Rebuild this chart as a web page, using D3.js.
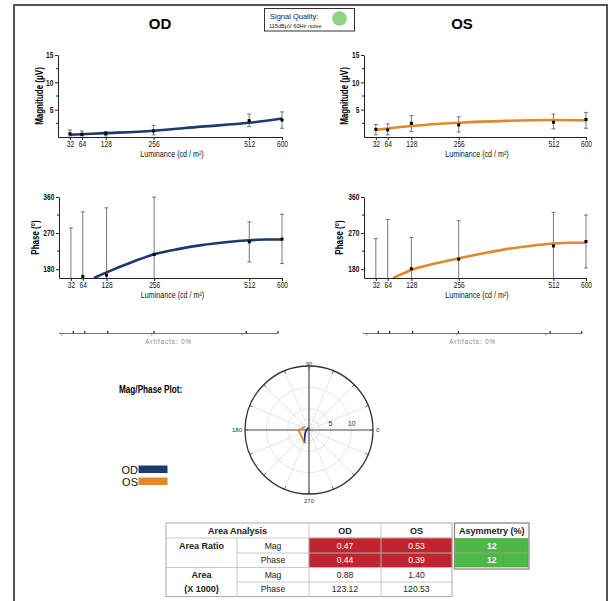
<!DOCTYPE html>
<meta charset="utf-8">
<html>
<style>
	body { margin: 0; background: #fff; }
	svg text { font-family: "Liberation Sans", Arial, sans-serif; }
	.axis path, .axis line { stroke: #222; }
	.axis text { font-size: 8.5px; fill: #111; font-family: "Liberation Sans", Arial, sans-serif; }
</style>
<body>
<script src="https://d3js.org/d3.v7.min.js"></script>
<script type="text/javascript">
	// luminance steps (cd/m2)
	var lum = [32, 64, 128, 256, 512, 600];

	// magnitude (uV) with error bar ends
	var odMag = [0.6, 0.5, 0.6, 1.1, 3.0, 3.1];
	var odMagLo = [0.2, 0.2, 0.2, 0.4, 1.9, 1.6];
	var odMagHi = [1.3, 1.1, 1.0, 2.1, 4.2, 4.6];
	var osMag = [1.4, 1.3, 2.5, 2.2, 2.7, 3.2];
	var osMagLo = [0.4, 0.4, 1.0, 0.9, 1.5, 1.6];
	var osMagHi = [2.3, 2.4, 3.9, 3.7, 4.2, 4.5];

	// phase (deg) with error bar ends
	var odPhase = [100, 162, 165, 217, 248, 255];
	var odPhaseLo = [-83, 1, -3, 74, 198, 194];
	var odPhaseHi = [283, 323, 333, 360, 298, 317];
	var osPhase = [140, 150, 181, 205, 238, 249];
	var osPhaseLo = [24, -4, 103, 109, 154, 183];
	var osPhaseHi = [256, 304, 259, 301, 322, 315];

	// fitted curves
	var magFitLum = [32, 64, 128, 256, 384, 512, 600];
	var odMagFit = [0.4, 0.5, 0.7, 1.15, 1.9, 2.6, 3.4];
	var osMagFit = [1.3, 1.55, 2.0, 2.6, 2.95, 3.1, 3.05];
	var odPhFitLum = [94, 128, 192, 256, 320, 384, 448, 512, 556, 600];
	var odPhaseFit = [158, 172, 196, 217, 230, 240, 247, 252, 254, 254];
	var osPhFitLum = [79, 128, 192, 256, 320, 384, 448, 512, 556, 600];
	var osPhaseFit = [158, 178, 194, 207, 219, 230, 238, 244, 246, 246];

	// axis ticks
	var magTicks = [5, 10, 15];
	var magMinor = [2.5, 7.5, 12.5];
	var phaseTicks = [180, 270, 360];
	var phaseMinor = [225, 315];
	var artifactTicks = [0, 250, 500];
	var polarRings = [2.5, 5, 10];
	var polarRingLabels = [5, 10];
	var polarAngleLabels = [0, 90, 180, 270];

	// area table
	var tableRows = ["Mag", "Phase", "Mag", "Phase"];
	var areaRatioOD = ["0.47", "0.44"];
	var areaRatioOS = ["0.53", "0.39"];
	var areaOD = ["0.88", "123.12"];
	var areaOS = ["1.40", "120.53"];
	var asymmetry = ["12", "12"];

	var navy = "#1d3a70", orange = "#e0882c";
	var width = 613, height = 601;
	var narrow = "scale(0.8,1)";

	var svg = d3.select("body").append("svg")
		.attr("width", width)
		.attr("height", height);

	svg.append("rect").attr("width", width).attr("height", height).attr("fill", "#fff");
	var defs = svg.append("defs");

	// page frame
	svg.append("rect")
		.attr("x", 14).attr("y", 5)
		.attr("width", 593).attr("height", 620)
		.attr("fill", "none").attr("stroke", "#555").attr("stroke-width", 2);

	// signal quality box
	svg.append("rect").attr("x", 264.5).attr("y", 8.5).attr("width", 90).attr("height", 22.5)
		.attr("fill", "#fff").attr("stroke", "#333").attr("stroke-width", 1);
	svg.append("text").attr("x", 270).attr("y", 18.5)
		.attr("font-size", 7.5).attr("fill", "#222").text("Signal Quality:");
	svg.append("text").attr("x", 269).attr("y", 28)
		.attr("font-size", 5.6).attr("fill", "#222").text("115dBμV 60Hz noise");
	svg.append("circle").attr("cx", 339.5).attr("cy", 18.5).attr("r", 7.3).attr("fill", "#92d286");

	// titles
	svg.append("text").attr("x", 160).attr("y", 29).attr("text-anchor", "middle")
		.attr("font-size", 15).attr("font-weight", "bold").text("OD");
	svg.append("text").attr("x", 462).attr("y", 29).attr("text-anchor", "middle")
		.attr("font-size", 15).attr("font-weight", "bold").text("OS");

	function drawPanel(p) {
		var x = d3.scaleLinear().domain([0, 600]).range([p.left, p.right]);
		var y = d3.scaleLinear().domain(p.yDomain).range([p.bottom, p.top]);
		var g = svg.append("g");

		defs.append("clipPath").attr("id", p.id)
			.append("rect").attr("x", p.left).attr("y", p.top - 1)
			.attr("width", p.right - p.left + 6).attr("height", p.bottom - p.top + 1);

		g.append("g").attr("class", "axis")
			.attr("transform", "translate(0," + p.bottom + ")")
			.call(d3.axisBottom(x).tickValues(lum).tickSize(3).tickSizeOuter(0).tickPadding(1).tickFormat(d3.format("d")))
			.selectAll("text").attr("transform", "scale(0.78,1)");

		g.append("g").attr("class", "axis")
			.attr("transform", "translate(" + p.left + ",0)")
			.call(d3.axisLeft(y).tickValues(p.yTicks).tickSize(3).tickSizeOuter(0).tickPadding(3))
			.selectAll("text").attr("font-weight", "bold").attr("font-size", 8).attr("transform", "scale(0.78,1)");

		g.append("g").selectAll("line").data(p.yMinor).join("line")
			.attr("x1", p.left - 2).attr("x2", p.left)
			.attr("y1", function (d) { return y(d); }).attr("y2", function (d) { return y(d); })
			.attr("stroke", "#222");

		g.append("g").attr("transform", "translate(" + ((p.left + p.right) / 2 + 2) + "," + (p.bottom + 20) + ")")
			.append("text").attr("transform", "scale(0.84,1)")
			.attr("text-anchor", "middle").attr("font-size", 8.5).attr("fill", "#111")
			.text("Luminance (cd / m²)");

		g.append("text")
			.attr("transform", "translate(" + p.labelX + "," + (p.top + p.bottom) / 2 + ") rotate(-90) " + narrow)
			.attr("text-anchor", "middle").attr("font-size", 10).attr("font-weight", "bold")
			.text(p.yLabel);

		var plot = g.append("g").attr("clip-path", "url(#" + p.id + ")");

		// error bars
		var bars = plot.selectAll(".err").data(lum).join("g").attr("class", "err");
		bars.append("line")
			.attr("x1", function (d) { return x(d); }).attr("x2", function (d) { return x(d); })
			.attr("y1", function (d, i) { return y(p.lo[i]); }).attr("y2", function (d, i) { return y(p.hi[i]); })
			.attr("stroke", "#555").attr("stroke-width", 0.8);
		[p.lo, p.hi].forEach(function (arr) {
			bars.append("line")
				.attr("x1", function (d) { return x(d) - 2; }).attr("x2", function (d) { return x(d) + 2; })
				.attr("y1", function (d, i) { return y(arr[i]); }).attr("y2", function (d, i) { return y(arr[i]); })
				.attr("stroke", "#555").attr("stroke-width", 0.8);
		});

		// fitted curve
		var line = d3.line()
			.x(function (d) { return x(d[0]); })
			.y(function (d) { return y(d[1]); })
			.curve(d3.curveMonotoneX);
		plot.append("path")
			.datum(d3.zip(p.fitX, p.fitY))
			.attr("d", line)
			.attr("fill", "none").attr("stroke", p.color).attr("stroke-width", 2.6);

		// data points
		plot.selectAll(".pt").data(lum).join("rect").attr("class", "pt")
			.attr("x", function (d) { return x(d) - 1.5; })
			.attr("y", function (d, i) { return y(p.vals[i]) - 1.5; })
			.attr("width", 3).attr("height", 3).attr("fill", "#000");
	}

	drawPanel({ id: "odMag", left: 58, right: 282, top: 55, bottom: 137, yDomain: [0, 15], yTicks: magTicks, yMinor: magMinor,
		yLabel: "Magnitude (μV)", labelX: 43, vals: odMag, lo: odMagLo, hi: odMagHi, fitX: magFitLum, fitY: odMagFit, color: navy });
	drawPanel({ id: "osMag", left: 364, right: 586, top: 55, bottom: 137, yDomain: [0, 15], yTicks: magTicks, yMinor: magMinor,
		yLabel: "Magnitude (μV)", labelX: 348, vals: osMag, lo: osMagLo, hi: osMagHi, fitX: magFitLum, fitY: osMagFit, color: orange });
	drawPanel({ id: "odPh", left: 59, right: 282, top: 197, bottom: 278, yDomain: [158, 360], yTicks: phaseTicks, yMinor: phaseMinor,
		yLabel: "Phase (°)", labelX: 39, vals: odPhase, lo: odPhaseLo, hi: odPhaseHi, fitX: odPhFitLum, fitY: odPhaseFit, color: navy });
	drawPanel({ id: "osPh", left: 364, right: 586, top: 197, bottom: 278, yDomain: [158, 360], yTicks: phaseTicks, yMinor: phaseMinor,
		yLabel: "Phase (°)", labelX: 343, vals: osPhase, lo: osPhaseLo, hi: osPhaseHi, fitX: osPhFitLum, fitY: osPhaseFit, color: orange });

	// artifact strips
	function drawArtifacts(a0, a1, lineL, lineR, cy) {
		var x = d3.scaleLinear().domain([0, 600]).range([a0, a1]);
		var g = svg.append("g");
		g.append("line").attr("x1", lineL).attr("x2", lineR).attr("y1", cy).attr("y2", cy)
			.attr("stroke", "#666").attr("stroke-width", 0.9);
		g.selectAll(".dn").data(artifactTicks).join("line")
			.attr("x1", function (d) { return x(d); }).attr("x2", function (d) { return x(d); })
			.attr("y1", cy).attr("y2", cy + 2).attr("stroke", "#666").attr("stroke-width", 0.8);
		g.selectAll(".up").data(lum).join("line")
			.attr("x1", function (d) { return x(d); }).attr("x2", function (d) { return x(d); })
			.attr("y1", cy - 2.5).attr("y2", cy).attr("stroke", "#222").attr("stroke-width", 1.2);
		g.append("text").attr("x", (lineL + lineR) / 2).attr("y", cy + 10.5)
			.attr("text-anchor", "middle").attr("font-size", 6.5).attr("letter-spacing", 0.8)
			.attr("fill", "#888").text("Artifacts: 0%");
	}
	drawArtifacts(61.7, 278, 59, 278, 333.5);
	drawArtifacts(366.7, 581.7, 363, 582, 333.5);

	// Mag/Phase polar plot
	svg.append("text").attr("transform", "translate(119,393) scale(0.78,1)")
		.attr("font-size", 10.5).attr("font-weight", "bold").text("Mag/Phase Plot:");

	var R = 64;
	var rS = d3.scaleLinear().domain([0, 15]).range([0, R]);
	var pg = svg.append("g").attr("transform", "translate(309,430)");
	var rad = function (deg) { return deg * Math.PI / 180; };

	pg.selectAll(".spoke").data(d3.range(0, 360, 22.5)).join("line")
		.attr("x1", 0).attr("y1", 0)
		.attr("x2", function (d) { return R * Math.cos(rad(d)); })
		.attr("y2", function (d) { return -R * Math.sin(rad(d)); })
		.attr("stroke", "#ddd").attr("stroke-width", 0.8);
	pg.selectAll(".ring").data(polarRings).join("circle")
		.attr("r", function (d) { return rS(d); })
		.attr("fill", "none").attr("stroke", "#ddd").attr("stroke-width", 0.8);
	pg.selectAll(".otick").data(d3.range(0, 360, 22.5)).join("line")
		.attr("x1", function (d) { return (R - 3) * Math.cos(rad(d)); })
		.attr("y1", function (d) { return -(R - 3) * Math.sin(rad(d)); })
		.attr("x2", function (d) { return R * Math.cos(rad(d)); })
		.attr("y2", function (d) { return -R * Math.sin(rad(d)); })
		.attr("stroke", "#444").attr("stroke-width", 0.8);
	pg.append("line").attr("x1", -R).attr("x2", R).attr("y1", 0).attr("y2", 0).attr("stroke", "#555").attr("stroke-width", 1.2);
	pg.append("line").attr("y1", -R).attr("y2", R).attr("x1", 0).attr("x2", 0).attr("stroke", "#555").attr("stroke-width", 1.2);
	pg.append("circle").attr("r", R).attr("fill", "none").attr("stroke", "#333").attr("stroke-width", 1.3);

	pg.selectAll(".rl").data(polarRingLabels).join("text")
		.attr("x", function (d) { return rS(d); }).attr("y", -4)
		.attr("text-anchor", "middle").attr("font-size", 7).attr("fill", "#333")
		.text(function (d) { return d; });
	pg.selectAll(".al").data(polarAngleLabels).join("text")
		.attr("font-size", 6).attr("fill", "#333")
		.attr("x", function (d) { return (R + (d % 180 === 0 ? 3 : 0)) * Math.cos(rad(d)); })
		.attr("y", function (d) { return -(R + (d % 180 === 0 ? 0 : 2.5)) * Math.sin(rad(d)) + (d === 270 ? 6 : 2); })
		.attr("text-anchor", function (d) { return d === 0 ? "start" : d === 180 ? "end" : "middle"; })
		.text(function (d) { return d; });

	var radial = d3.lineRadial()
		.angle(function (d) { return rad(90 - d[1]); })
		.radius(function (d) { return rS(d[0]); });
	[[odMag, odPhase, navy], [osMag, osPhase, orange]].forEach(function (s) {
		pg.append("path").datum(d3.zip(s[0], s[1]))
			.attr("d", radial)
			.attr("fill", "none").attr("stroke", s[2]).attr("stroke-width", 1.8)
			.attr("stroke-linejoin", "round");
	});

	// legend
	[["OD", navy], ["OS", orange]].forEach(function (l, i) {
		svg.append("text").attr("x", 138).attr("y", 474 + i * 12)
			.attr("text-anchor", "end").attr("font-size", 11).attr("fill", "#111").text(l[0]);
		svg.append("rect").attr("x", 138.5).attr("y", 465.5 + i * 12).attr("width", 29).attr("height", 7.5).attr("fill", l[1]);
	});

	// area analysis table
	var cols = [166, 237, 309, 381, 452];
	var rows = [523, 538, 553, 567.5, 582, 596.5];
	var tg = svg.append("g");
	function cellText(txt, cx, cy, opts) {
		opts = opts || {};
		tg.append("text").attr("x", cx).attr("y", cy + 3)
			.attr("text-anchor", "middle").attr("font-size", opts.size || 8.6)
			.attr("font-weight", opts.bold ? "bold" : "normal")
			.attr("fill", opts.fill || "#222").text(txt);
	}
	var mid = function (a, b) { return (a + b) / 2; };

	// red cells
	[0, 1].forEach(function (r) {
		[2, 3].forEach(function (c) {
			tg.append("rect").attr("x", cols[c]).attr("y", rows[r + 1])
				.attr("width", cols[c + 1] - cols[c]).attr("height", rows[r + 2] - rows[r + 1])
				.attr("fill", "#c1232f").attr("stroke", "#a51c27").attr("stroke-width", 0.6);
		});
	});

	// grid lines
	var gridColor = "#c4c4c4";
	tg.append("rect").attr("x", cols[0]).attr("y", rows[0]).attr("width", cols[4] - cols[0]).attr("height", rows[5] - rows[0])
		.attr("fill", "none").attr("stroke", "#aaa").attr("stroke-width", 1);
	[[cols[1], rows[1], cols[1], rows[5]], [cols[2], rows[0], cols[2], rows[5]], [cols[3], rows[0], cols[3], rows[5]],
		[cols[0], rows[1], cols[4], rows[1]], [cols[1], rows[2], cols[4], rows[2]], [cols[0], rows[3], cols[4], rows[3]],
		[cols[1], rows[4], cols[4], rows[4]]].forEach(function (l) {
		tg.append("line").attr("x1", l[0]).attr("y1", l[1]).attr("x2", l[2]).attr("y2", l[3])
			.attr("stroke", gridColor).attr("stroke-width", 0.9);
	});

	cellText("Area Analysis", mid(cols[0], cols[2]), mid(rows[0], rows[1]), { bold: true, size: 9 });
	cellText("OD", mid(cols[2], cols[3]), mid(rows[0], rows[1]), { bold: true, size: 9 });
	cellText("OS", mid(cols[3], cols[4]), mid(rows[0], rows[1]), { bold: true, size: 9 });
	cellText("Area Ratio", mid(cols[0], cols[1]), mid(rows[1], rows[2]), { bold: true, size: 9 });
	cellText("Area", mid(cols[0], cols[1]), mid(rows[3], rows[4]), { bold: true, size: 9 });
	cellText("(X 1000)", mid(cols[0], cols[1]), mid(rows[4], rows[5]), { bold: true, size: 9 });
	tableRows.forEach(function (t, i) {
		cellText(t, mid(cols[1], cols[2]), mid(rows[i + 1], rows[i + 2]));
	});
	[0, 1].forEach(function (i) {
		cellText(areaRatioOD[i], mid(cols[2], cols[3]), mid(rows[i + 1], rows[i + 2]), { fill: "#fff" });
		cellText(areaRatioOS[i], mid(cols[3], cols[4]), mid(rows[i + 1], rows[i + 2]), { fill: "#fff" });
		cellText(areaOD[i], mid(cols[2], cols[3]), mid(rows[i + 3], rows[i + 4]));
		cellText(areaOS[i], mid(cols[3], cols[4]), mid(rows[i + 3], rows[i + 4]));
	});

	// asymmetry box
	var ax0 = 454.5, ax1 = 529;
	tg.append("rect").attr("x", ax0).attr("y", rows[0]).attr("width", ax1 - ax0).attr("height", 46)
		.attr("fill", "#fff").attr("stroke", "#8a8a8a").attr("stroke-width", 1.3);
	cellText("Asymmetry (%)", mid(ax0, ax1), mid(rows[0], rows[1]), { bold: true, size: 9 });
	asymmetry.forEach(function (v, i) {
		tg.append("rect").attr("x", ax0 + 1).attr("y", rows[i + 1] + 0.5)
			.attr("width", ax1 - ax0 - 2).attr("height", rows[i + 2] - rows[i + 1] - 1)
			.attr("fill", "#4db848").attr("stroke", "#3e9a3a").attr("stroke-width", 0.6);
		cellText(v, mid(ax0, ax1), mid(rows[i + 1], rows[i + 2]), { fill: "#fff", bold: true });
	});
</script>
</body>
</html>
